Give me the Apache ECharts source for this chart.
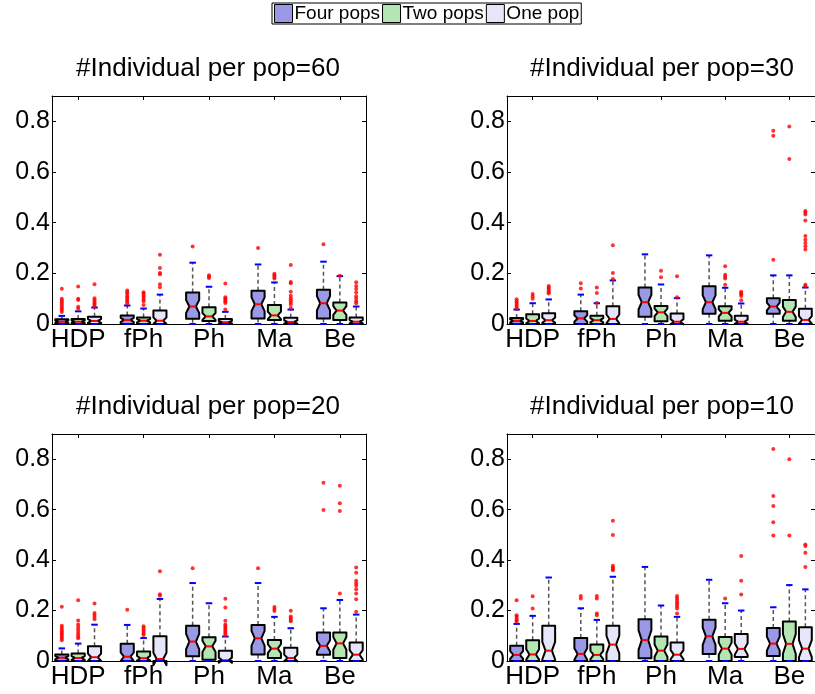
<!DOCTYPE html>
<html><head><meta charset="utf-8">
<script src="https://cdn.jsdelivr.net/npm/echarts@6/dist/echarts.min.js"></script>
<style>html,body{margin:0;padding:0;background:#fff}#c{width:815px;height:694px}</style>
</head><body><div id="c"></div>
<script>
// ---------------- data ----------------
const categories = ['HDP', 'fPh', 'Ph', 'Ma', 'Be'];
const groupNames = ['Four pops', 'Two pops', 'One pop'];
const yTicks = [0, 0.2, 0.4, 0.6, 0.8];
const yTickLabels = ['0', '0.2', '0.4', '0.6', '0.8'];
const panelTitles = ['#Individual per pop=60', '#Individual per pop=30', '#Individual per pop=20', '#Individual per pop=10'];

// box stats per category: [lowerWhisker, q1, median, q3, upperWhisker]
const pop60_four = [[0,0,0.009,0.019,0.032],[0,0,0.016,0.034,0.073],[0,0.021,0.069,0.124,0.242],[0,0.022,0.078,0.131,0.235],[0,0.022,0.082,0.135,0.246]];
const pop60_two  = [[0,0,0.009,0.02,0.05],[0,0,0.013,0.026,0.061],[0,0.012,0.03,0.066,0.147],[0,0.016,0.034,0.075,0.164],[0,0.016,0.053,0.085,0.189]];
const pop60_one  = [[0,0,0.012,0.029,0.065],[0,0,0.013,0.053,0.116],[0,0,0.007,0.02,0.048],[0,0,0.008,0.025,0.057],[0,0,0.009,0.026,0.069]];
const pop60_four_out = [[0.139,0.1,0.093,0.086,0.078,0.07,0.062,0.055,0.047],[0.132,0.125,0.118,0.11,0.103,0.096,0.089,0.082],[0.306],[0.3],[0.315]];
const pop60_two_out  = [[0.148,0.1,0.095,0.068,0.06],[0.125,0.119,0.112,0.105,0.097,0.09,0.075],[0.192,0.187,0.182],[0.198,0.192,0.186,0.18],[0.19]];
const pop60_one_out  = [[0.157,0.102,0.094,0.087,0.081,0.075,0.069],[0.273,0.221,0.201,0.196,0.157,0.145],[0.16,0.106,0.1,0.095,0.089,0.083,0.057],[0.233,0.166,0.161,0.127,0.112,0.102,0.094,0.086,0.077,0.063],[0.165,0.15,0.138,0.124,0.11,0.1,0.09,0.082]];

const pop30_four = [[0,0,0.012,0.024,0.057],[0,0,0.022,0.05,0.116],[0,0.029,0.086,0.144,0.275],[0,0.04,0.086,0.149,0.271],[0,0.04,0.069,0.102,0.192]];
const pop30_two  = [[0,0,0.012,0.038,0.082],[0,0,0.015,0.033,0.082],[0,0.011,0.046,0.071,0.156],[0,0.013,0.044,0.07,0.143],[0,0.013,0.048,0.095,0.192]];
const pop30_one  = [[0,0,0.015,0.042,0.097],[0,0,0.02,0.07,0.172],[0,0,0.009,0.041,0.102],[0,0,0.009,0.033,0.081],[0,0,0.016,0.06,0.144]];
const pop30_four_out = [[0.098,0.09,0.083,0.076,0.069,0.062],[0.161,0.14],[],[],[0.763,0.743,0.254]];
const pop30_two_out  = [[0.118,0.11,0.1],[0.144,0.122,0.083],[0.21,0.185],[0.228,0.194,0.187,0.18,0.155],[0.78,0.651]];
const pop30_one_out  = [[0.15,0.144,0.138,0.131,0.125,0.12],[0.311,0.201,0.178],[0.188,0.106],[0.127,0.122,0.117,0.111,0.094],[0.446,0.44,0.432,0.409,0.347,0.333,0.32,0.307,0.294,0.155,0.15]];

const pop20_four = [[0,0,0.013,0.026,0.05],[0,0,0.017,0.068,0.143],[0,0.019,0.077,0.14,0.309],[0,0.026,0.09,0.143,0.309],[0,0.025,0.06,0.113,0.209]];
const pop20_two  = [[0,0,0.012,0.03,0.069],[0,0,0.011,0.038,0.091],[0,0.005,0.058,0.094,0.229],[0,0.012,0.049,0.083,0.175],[0,0.012,0.07,0.113,0.242]];
const pop20_one  = [[0,0,0.015,0.058,0.144],[0,0,0.008,0.098,0.246],[0,0,0.003,0.041,0.097],[0,0,0.012,0.053,0.13],[0,0,0.025,0.073,0.184]];
const pop20_four_out = [[0.215,0.14,0.132,0.124,0.117,0.11,0.103,0.096,0.089,0.082],[0.203],[0.368],[0.368],[0.707,0.599]];
const pop20_two_out  = [[0.241,0.161,0.145,0.135,0.125,0.115,0.106,0.097,0.09],[0.138,0.131,0.124,0.117,0.11,0.103],[],[0.214,0.206,0.198],[0.695,0.625,0.595,0.268]];
const pop20_one_out  = [[0.228,0.19,0.182,0.174,0.166],[0.356,0.265,0.259],[0.247,0.212,0.16,0.145,0.138,0.131,0.124,0.117,0.11,0.103],[0.199,0.176,0.17,0.164,0.158],[0.371,0.35,0.318,0.308,0.298,0.284,0.268,0.245,0.195]];

const pop10_four = [[0,0,0.024,0.06,0.147],[0,0,0.028,0.091,0.209],[0,0.011,0.083,0.166,0.373],[0,0.028,0.098,0.164,0.322],[0,0.02,0.069,0.131,0.213]];
const pop10_two  = [[0,0,0.026,0.082,0.179],[0,0,0.024,0.065,0.163],[0,0,0.041,0.097,0.22],[0,0,0.049,0.095,0.229],[0,0,0.068,0.157,0.301]];
const pop10_one  = [[0,0,0.041,0.14,0.331],[0,0,0.065,0.14,0.334],[0,0,0.025,0.073,0.175],[0,0.016,0.048,0.107,0.2],[0,0,0.049,0.134,0.284]];
const pop10_four_out = [[0.241,0.181,0.175,0.168,0.162,0.156],[0.258,0.248],[],[],[0.841,0.654,0.615,0.55,0.498]];
const pop10_two_out  = [[0.257,0.208],[0.258,0.248,0.188,0.181],[],[0.248],[0.8,0.498]];
const pop10_one_out  = [[],[0.556,0.5,0.378,0.371,0.365,0.36],[0.258,0.25,0.242,0.233,0.225,0.216,0.208,0.188],[0.416,0.318,0.264],[0.462,0.456,0.429,0.373]];

// ---------------- layout / style ----------------
const panels = [
  {stats: [pop60_four, pop60_two, pop60_one], outs: [pop60_four_out, pop60_two_out, pop60_one_out]},
  {stats: [pop30_four, pop30_two, pop30_one], outs: [pop30_four_out, pop30_two_out, pop30_one_out]},
  {stats: [pop20_four, pop20_two, pop20_one], outs: [pop20_four_out, pop20_two_out, pop20_one_out]},
  {stats: [pop10_four, pop10_two, pop10_one], outs: [pop10_four_out, pop10_two_out, pop10_one_out]}
];
const gridPos = [
  {left: 52, top: 96, width: 314, height: 228},
  {left: 507, top: 96, width: 314, height: 228},
  {left: 52, top: 434, width: 314, height: 227},
  {left: 507, top: 434, width: 314, height: 227}
];
const titlePos = [[208, 68.5], [662, 68.5], [208, 406.5], [662, 406.5]];
const groupColors = ['#9999e6', '#b3e6b3', '#e6e6fa'];
const groupOffsets = [-0.25, 0, 0.25];
const BOXW = 0.2;
const NOTCH = 0.25; // notch half-height as fraction of IQR
const FONT = '"Liberation Sans", Arial, Helvetica, sans-serif';

function renderBox(params, api) {
  const x = api.value(0);
  const lo = api.value(1), q1 = api.value(2), med = api.value(3), q3 = api.value(4), hi = api.value(5);
  const iqr = q3 - q1;
  const nlo = med - NOTCH * iqr, nhi = med + NOTCH * iqr;
  const w = api.size([BOXW, 0])[0];
  const cx = api.coord([x, 0])[0];
  const Y = v => api.coord([x, v])[1];
  const L = cx - w / 2, R = cx + w / 2, ins = w * 0.25;
  const color = api.visual('color');
  const capW = w * 0.25;
  const dash = {stroke: '#555', lineWidth: 1.5, lineDash: [4, 3]};
  const cap = {stroke: '#0000ff', lineWidth: 2};
  const pts = [[L, Y(q1)], [L, Y(nlo)], [L + ins, Y(med)], [L, Y(nhi)], [L, Y(q3)],
               [R, Y(q3)], [R, Y(nhi)], [R - ins, Y(med)], [R, Y(nlo)], [R, Y(q1)]];
  return {
    type: 'group',
    children: [
      {type: 'line', shape: {x1: cx, y1: Y(q3), x2: cx, y2: Y(hi)}, style: dash},
      {type: 'line', shape: {x1: cx, y1: Y(q1), x2: cx, y2: Y(lo)}, style: dash},
      {type: 'polygon', shape: {points: pts}, style: {fill: color, stroke: '#000', lineWidth: 2, lineJoin: 'round'}},
      {type: 'line', shape: {x1: L + ins, y1: Y(med), x2: R - ins, y2: Y(med)}, style: {stroke: '#ff0000', lineWidth: 2}},
      {type: 'line', shape: {x1: cx - capW, y1: Y(hi), x2: cx + capW, y2: Y(hi)}, style: cap},
      {type: 'line', shape: {x1: cx - capW, y1: Y(lo), x2: cx + capW, y2: Y(lo)}, style: cap}
    ]
  };
}

const grids = [], xAxes = [], yAxes = [], series = [], graphics = [];
const catTicks = categories.map((c, i) => i + 1);
panels.forEach((p, pi) => {
  grids.push(Object.assign({show: false}, gridPos[pi]));
  const axLine = {show: true, onZero: false, lineStyle: {color: '#000', width: 1}};
  xAxes.push({
    type: 'value', gridIndex: pi, position: 'bottom', min: 0.6, max: 5.4,
    axisLine: axLine, splitLine: {show: false},
    axisTick: {show: true, inside: true, length: 4, customValues: catTicks, lineStyle: {color: '#000'}},
    axisLabel: {show: true, customValues: catTicks, formatter: v => categories[Math.round(v) - 1],
      fontSize: 26, color: '#000', fontFamily: FONT, margin: 3}
  });
  xAxes.push({
    type: 'value', gridIndex: pi, position: 'top', min: 0.6, max: 5.4,
    axisLine: axLine, splitLine: {show: false},
    axisTick: {show: true, inside: true, length: 4, customValues: catTicks, lineStyle: {color: '#000'}},
    axisLabel: {show: false}
  });
  yAxes.push({
    type: 'value', gridIndex: pi, position: 'left', min: 0, max: 0.9,
    axisLine: axLine, splitLine: {show: false},
    axisTick: {show: true, inside: true, length: 4, customValues: yTicks, lineStyle: {color: '#000'}},
    axisLabel: {show: true, customValues: yTicks, formatter: v => yTickLabels[yTicks.indexOf(v)] ?? String(v),
      fontSize: 25, color: '#000', fontFamily: FONT, margin: 2}
  });
  yAxes.push({
    type: 'value', gridIndex: pi, position: 'right', min: 0, max: 0.9,
    axisLine: axLine, splitLine: {show: false},
    axisTick: {show: true, inside: true, length: 4, customValues: yTicks, lineStyle: {color: '#000'}},
    axisLabel: {show: false}
  });
  p.stats.forEach((st, gi) => {
    series.push({
      type: 'custom', name: groupNames[gi], xAxisIndex: pi * 2, yAxisIndex: pi * 2,
      itemStyle: {color: groupColors[gi], borderColor: '#000', borderWidth: 1},
      renderItem: renderBox, clip: false, z: 2,
      encode: {x: 0, y: [1, 2, 3, 4, 5]},
      data: categories.map((c, ci) => [ci + 1 + groupOffsets[gi]].concat(st[ci]))
    });
    const od = [];
    p.outs[gi].forEach((arr, ci) => arr.forEach(v => od.push([ci + 1 + groupOffsets[gi], v])));
    series.push({
      type: 'scatter', xAxisIndex: pi * 2, yAxisIndex: pi * 2, z: 3,
      symbol: 'circle', symbolSize: 4, itemStyle: {color: '#ff0000'}, data: od, silent: true
    });
  });
  graphics.push({
    type: 'text', x: titlePos[pi][0], y: titlePos[pi][1],
    style: {text: panelTitles[pi], font: '26px ' + FONT, fill: '#000', textAlign: 'center', textVerticalAlign: 'middle'}
  });
});

const chart = echarts.init(document.getElementById('c'), null, {renderer: 'canvas'});
chart.setOption({
  animation: false,
  backgroundColor: '#fff',
  legend: {
    data: groupNames, left: 272, top: 3, orient: 'horizontal',
    itemWidth: 18, itemHeight: 18, itemGap: 2, icon: 'rect',
    borderColor: '#000', borderWidth: 1, padding: [1, 2, 1, 2],
    itemStyle: {borderColor: '#000', borderWidth: 1},
    textStyle: {fontSize: 19, color: '#000', fontFamily: FONT, padding: [0, 0, 0, -3]}
  },
  grid: grids, xAxis: xAxes, yAxis: yAxes, series: series,
  graphic: graphics
});
</script></body></html>
